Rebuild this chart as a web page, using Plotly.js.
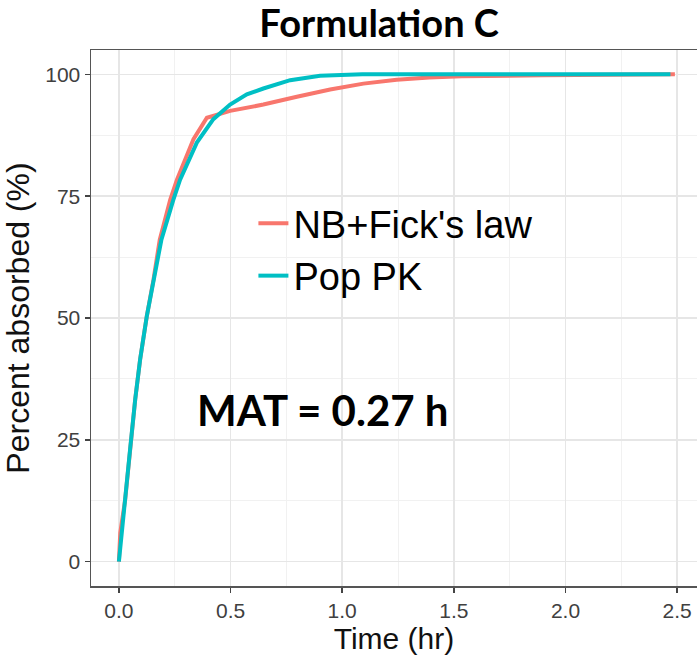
<!DOCTYPE html>
<html>
<head>
<meta charset="utf-8">
<script src="https://cdn.plot.ly/plotly-3.0.1.min.js"></script>
<style>html,body{margin:0;padding:0;background:#fff;overflow:hidden;}#chart{width:697px;height:656px;}</style>
</head>
<body>
<div id="chart"></div>
<script>
// Data
const seriesNames = ["NB+Fick's law", "Pop PK"];
const fickTime = [0, 0.006, 0.028, 0.05, 0.073, 0.095, 0.125, 0.155, 0.183, 0.23, 0.26, 0.334, 0.394, 0.498, 0.647, 0.797, 0.946, 1.095, 1.244, 1.39, 1.535, 1.9, 2.2, 2.49];
const fickPct  = [0, 5.9, 12.7, 23, 33.3, 41.5, 50.4, 57.9, 66.1, 74.3, 78.4, 86.7, 91.1, 92.5, 93.8, 95.4, 96.9, 98.1, 98.9, 99.35, 99.6, 99.8, 99.95, 100];
const popTime = [0, 0.01, 0.028, 0.05, 0.073, 0.095, 0.125, 0.155, 0.19, 0.244, 0.274, 0.349, 0.423, 0.498, 0.573, 0.647, 0.767, 0.901, 1.09, 1.5, 2.0, 2.47];
const popPct  = [0, 5, 12.7, 23, 33.3, 41.5, 50.4, 57.9, 66, 74.3, 78.4, 86, 90.8, 93.8, 95.9, 97.1, 98.8, 99.7, 100, 100, 100, 100];
const xTicks = [0, 0.5, 1.0, 1.5, 2.0, 2.5];
const xTickText = ["0.0", "0.5", "1.0", "1.5", "2.0", "2.5"];
const yTicks = [0, 25, 50, 75, 100];
const titleText = "Formulation C";
const matText = "MAT = 0.27 h";

const sans = 'Arial, "Liberation Sans", sans-serif';
const traces = [
  {x: fickTime, y: fickPct, name: seriesNames[0], type: 'scatter', mode: 'lines',
   line: {color: '#F8766D', width: 4}},
  {x: popTime, y: popPct, name: seriesNames[1], type: 'scatter', mode: 'lines',
   line: {color: '#00BFC4', width: 4}}
];

const gridMajor = '#E6E6E6';
const gridMinor = '#F1F1F1';
const layout = {
  width: 697, height: 656,
  margin: {l: 91, r: 0, t: 50, b: 70},
  paper_bgcolor: '#fff', plot_bgcolor: '#fff',
  showlegend: true,
  title: {text: '<b>' + titleText + '</b>', font: {family: 'Lato', size: 38, color: '#000'},
          x: 0.544, xref: 'container', xanchor: 'center', y: 0.9634, yref: 'container', yanchor: 'middle'},
  xaxis: {
    range: [-0.125, 2.589], tickvals: xTicks, ticktext: xTickText,
    showgrid: true, gridcolor: gridMajor, gridwidth: 1.5,
    minor: {dtick: 0.25, tick0: 0, showgrid: true, gridcolor: gridMinor, gridwidth: 1, ticks: ''},
    zeroline: false, showline: true, mirror: true, linecolor: '#555', linewidth: 1.5,
    ticks: 'outside', ticklen: 5, tickwidth: 1.5, tickcolor: '#444',
    tickfont: {family: sans, size: 21, color: '#404040'},
    title: {text: 'Time (hr)', font: {family: sans, size: 30, color: '#111'}, standoff: 2}
  },
  yaxis: {
    range: [-5, 105], tickvals: yTicks,
    showgrid: true, gridcolor: gridMajor, gridwidth: 1.5,
    minor: {dtick: 12.5, tick0: 0, showgrid: true, gridcolor: gridMinor, gridwidth: 1, ticks: ''},
    zeroline: false, showline: true, mirror: false, linecolor: '#555', linewidth: 1.5,
    ticks: 'outside', ticklen: 5, tickwidth: 1.5, tickcolor: '#444',
    tickfont: {family: sans, size: 21, color: '#404040'},
    title: {text: 'Percent absorbed (%)', font: {family: sans, size: 32, color: '#111'}, standoff: 6}
  },
  legend: {x: 0.268, xanchor: 'left', y: 0.735, yanchor: 'top', bgcolor: 'rgba(0,0,0,0)',
           font: {family: sans, size: 38, color: '#000'}},
  shapes: [
    {type: 'rect', xref: 'paper', yref: 'paper', x0: 0.211, x1: 0.757, y0: 0.496, y1: 0.754,
     fillcolor: '#fff', line: {width: 0}, layer: 'between'}
  ],
  annotations: [
    {text: '<b>' + matText + '</b>', xref: 'paper', yref: 'paper', x: 0.172, y: 0.328,
     xanchor: 'left', yanchor: 'middle', showarrow: false,
     font: {family: 'Lato', size: 42, color: '#000'}}
  ]
};

Plotly.newPlot('chart', traces, layout, {displayModeBar: false, staticPlot: true});
</script>
</body>
</html>
